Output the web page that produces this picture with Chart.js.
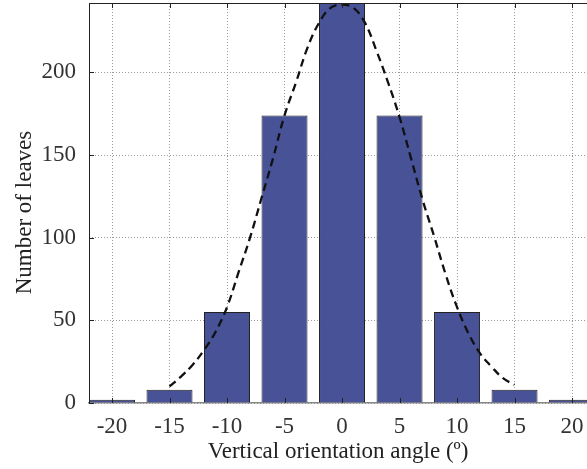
<!DOCTYPE html>
<html><head><meta charset="utf-8">
<script src="https://cdn.jsdelivr.net/npm/chart.js@4/dist/chart.umd.min.js"></script>
<style>html,body{margin:0;padding:0;background:#fff;overflow:hidden}</style>
</head><body>
<canvas id="c" width="587" height="469"></canvas>
<script>
const angles = [-20, -15, -10, -5, 0, 5, 10, 15, 20];
const leafCounts = [2, 8, 55, 174, 250, 174, 55, 8, 2];
const curveX = [-15,-14,-13,-12,-11,-10,-9,-8,-7,-6,-5,-4,-3,-2,-1,0,1,2,3,4,5,6,7,8,9,10,11,12,13,14,15];
const curveY = [10,16,23,32,43,58,79,100,124,148,174,194,215,230,239,241,239,230,213,194,173,148,123,101,78,58,42,30,22,15,11];
const xTicks = [-20, -15, -10, -5, 0, 5, 10, 15, 20];
const yTicks = [0, 50, 100, 150, 200];
const yTitle = 'Number of leaves';
const xTitle = 'Vertical orientation angle (º)';

const FONT = "'Liberation Serif', 'Times New Roman', serif";
const FS = 23;

const frame = {
  id: 'frame',
  afterDatasetsDraw(chart) {
    const {ctx, chartArea: a, scales: {x, y}} = chart;
    ctx.save();
    ctx.strokeStyle = '#222';
    ctx.lineWidth = 1;
    ctx.beginPath();
    ctx.moveTo(a.left + 0.5, a.top); ctx.lineTo(a.left + 0.5, a.bottom + 1);
    ctx.moveTo(a.left, a.top + 0.5); ctx.lineTo(a.right, a.top + 0.5);
    xTicks.forEach(v => {
      const px = Math.round(x.getPixelForValue(v)) + 0.5;
      ctx.moveTo(px, a.bottom); ctx.lineTo(px, a.bottom - 5);
      ctx.moveTo(px, a.top); ctx.lineTo(px, a.top + 5);
    });
    yTicks.forEach(v => {
      const py = Math.round(y.getPixelForValue(v)) + 0.5;
      ctx.moveTo(a.left, py); ctx.lineTo(a.left + 5, py);
    });
    ctx.stroke();
    // y-axis title
    ctx.fillStyle = '#222';
    ctx.font = FS + 'px ' + FONT;
    ctx.textAlign = 'center';
    ctx.textBaseline = 'alphabetic';
    ctx.translate(31, 212.5);
    ctx.rotate(-Math.PI / 2);
    ctx.fillText(yTitle, 0, 0);
    ctx.restore();
  }
};

new Chart(document.getElementById('c'), {
  type: 'bar',
  data: {
    datasets: [
      {
        type: 'line',
        data: curveX.map((v, i) => ({x: v, y: curveY[i]})),
        borderColor: '#111',
        borderWidth: 2.3,
        borderDash: [8, 5],
        pointRadius: 0,
        tension: 0.4,
        fill: false,
        order: 0
      },
      {
        type: 'bar',
        data: angles.map((v, i) => ({x: v, y: leafCounts[i]})),
        backgroundColor: '#475297',
        borderColor: '#222',
        borderWidth: 1,
        barPercentage: 0.8,
        categoryPercentage: 1,
        order: 1
      }
    ]
  },
  options: {
    responsive: false,
    animation: false,
    layout: {padding: {top: 3, right: 0, left: 0, bottom: 0}},
    plugins: {legend: {display: false}, tooltip: {enabled: false}},
    scales: {
      x: {
        type: 'linear',
        min: -22, max: 21.3,
        offset: false,
        afterBuildTicks: s => { s.ticks = xTicks.map(v => ({value: v})); },
        afterFit: s => { s.height = 66; s.paddingLeft = 0; s.paddingRight = 0; },
        grid: {offset: false, color: '#9a9a9a', drawTicks: false},
        border: {display: true, color: '#888', width: 1.5, dash: [1, 2]},
        ticks: {font: {family: FONT, size: FS}, color: '#333', padding: 10, maxRotation: 0},
        title: {display: true, text: xTitle, font: {family: FONT, size: FS}, color: '#222', padding: {top: 0, bottom: 3}}
      },
      y: {
        min: 0, max: 242,
        afterBuildTicks: s => { s.ticks = yTicks.map(v => ({value: v})); },
        afterFit: s => { s.width = 89; s.paddingTop = 0; s.paddingBottom = 0; },
        grid: {color: '#9a9a9a', drawTicks: false},
        border: {display: false, dash: [1, 2]},
        ticks: {font: {family: FONT, size: FS}, color: '#333', padding: 13},
        title: {display: false}
      }
    }
  },
  plugins: [frame]
});
</script>
</body></html>
